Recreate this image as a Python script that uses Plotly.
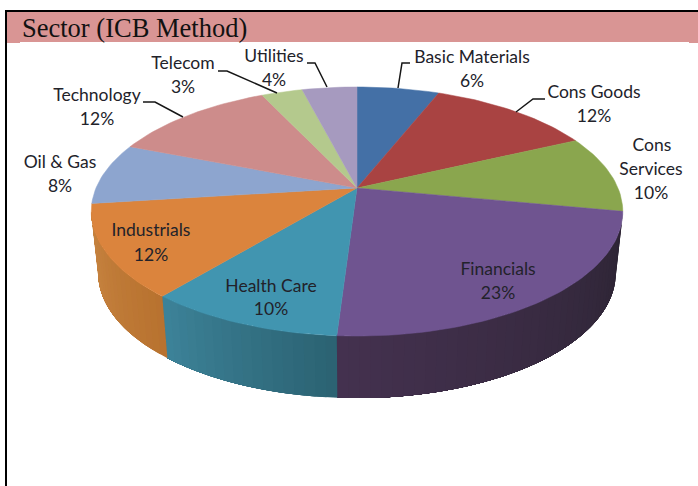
import math
import plotly.graph_objects as go

categories = ["Basic Materials", "Cons Goods", "Cons Services", "Financials", "Health Care",
              "Industrials", "Oil & Gas", "Technology", "Telecom", "Utilities"]
shares = [6, 12, 10, 23, 10, 12, 8, 12, 3, 4]
colors = ["#4470A6", "#A94342", "#8AA64E", "#6F5490", "#4195B0",
          "#DB843D", "#8DA5CF", "#CD8C8B", "#B4C98D", "#A69ABF"]
wall_from = {3: "#2C2433", 4: "#2B6272", 5: "#B8722F"}
wall_to = {3: "#44314F", 4: "#3D8399", 5: "#C88542"}

# Projection of the tilted disc
CX, CY, A, B, K = 357, 188, 261, 120.1, 0.1888
TOP_CY, TOP_RX, TOP_RY = 211.5, 266, 124.5
BOT_CY, BOT_RX, BOT_RY = 273, 259, 125


def top(theta):
    u, v = math.sin(theta), math.cos(theta)
    w = 1 + K * v
    return CX + A * u / w, CY - B * v / w


def bottom(theta):
    x, y = top(theta)
    return CX + (x - CX) / TOP_RX * BOT_RX, BOT_CY + (y - TOP_CY) / TOP_RY * BOT_RY


def mix(c1, c2, t):
    a = [int(c1[i:i + 2], 16) for i in (1, 3, 5)]
    b = [int(c2[i:i + 2], 16) for i in (1, 3, 5)]
    return "rgb(%d,%d,%d)" % tuple(round(p + (q - p) * t) for p, q in zip(a, b))


fig = go.Figure()
total = sum(shares)
edges = [0]
for s in shares:
    edges.append(edges[-1] + s / total * 2 * math.pi)

LIMIT_A, LIMIT_B = math.radians(100.9), math.radians(259)

# side walls: each strip reaches to the end of its slice and the next one paints over it,
# so the shading runs along the rim without seams
for i in wall_from:
    a0, a1 = max(edges[i], LIMIT_A), min(edges[i + 1], LIMIT_B)
    n = max(int((a1 - a0) / math.radians(2)), 1)
    for j in range(n):
        t0 = a0 + (a1 - a0) * j / n
        m = max(int((a1 - t0) / math.radians(1.5)), 1)
        steps = [t0 + (a1 - t0) * q / m for q in range(m + 1)]
        pts = [top(t) for t in steps] + [bottom(t) for t in reversed(steps)]
        col = mix(wall_from[i], wall_to[i], (j + 0.5) / n)
        fig.add_trace(go.Scatter(x=[p[0] for p in pts] + [pts[0][0]],
                                 y=[p[1] for p in pts] + [pts[0][1]],
                                 mode="none", fill="toself", fillcolor=col,
                                 hoverinfo="skip", showlegend=False))

# top faces
for i, name in enumerate(categories):
    n = max(int((edges[i + 1] - edges[i]) / math.radians(1.5)), 2)
    pts = [(CX, CY)] + [top(edges[i] + (edges[i + 1] - edges[i]) * j / n) for j in range(n + 1)] + [(CX, CY)]
    fig.add_trace(go.Scatter(x=[p[0] for p in pts], y=[p[1] for p in pts], mode="lines",
                             fill="toself", fillcolor=colors[i],
                             line=dict(color=colors[i], width=0.5),
                             name=name, hoverinfo="name", showlegend=False))

# leader lines
leaders = [
    [(410, 63), (402, 63), (398, 88)],
    [(545, 99), (533, 99), (516, 112)],
    [(307, 63), (315, 63), (327, 87)],
    [(218, 71), (227, 71), (277, 93)],
    [(143, 102), (155, 102), (183, 117)],
]
for ln in leaders:
    fig.add_trace(go.Scatter(x=[p[0] for p in ln], y=[p[1] for p in ln], mode="lines",
                             line=dict(color="#161616", width=1.5),
                             hoverinfo="skip", showlegend=False))

# labels
label_pos = {
    "Basic Materials": [(472, 59), (472, 83)],
    "Cons Goods": [(594, 94), (594, 118)],
    "Cons Services": [(652, 147), (651, 171), (651, 195)],
    "Financials": [(498, 271), (498, 295)],
    "Health Care": [(271, 288), (271, 311)],
    "Industrials": [(151, 232), (151, 257)],
    "Oil & Gas": [(60, 164), (60, 188)],
    "Technology": [(97, 97), (97, 121)],
    "Telecom": [(183, 65), (183, 89)],
    "Utilities": [(274, 58), (274, 82)],
}
lx, ly, lt = [], [], []
for name, share in zip(categories, shares):
    parts = name.split(" ") if name == "Cons Services" else [name]
    parts = parts + [f"{share}%"]
    for (x, y), t in zip(label_pos[name], parts):
        lx.append(x)
        ly.append(y)
        lt.append(t)
fig.add_trace(go.Scatter(x=lx, y=ly, text=lt, mode="text", textposition="middle center",
                         textfont=dict(family="Lato", size=17.5, color="#22222A"),
                         hoverinfo="skip", showlegend=False))

fig.update_layout(
    width=698, height=486, margin=dict(l=0, r=0, t=0, b=0),
    paper_bgcolor="white", plot_bgcolor="white",
    xaxis=dict(range=[0, 698], visible=False, fixedrange=True),
    yaxis=dict(range=[486, 0], visible=False, fixedrange=True),
    shapes=[
        dict(type="rect", xref="x", yref="y", x0=7, x1=698, y0=12, y1=42,
             fillcolor="#D99594", line_width=0, layer="below"),
        dict(type="rect", xref="x", yref="y", x0=7, x1=20, y0=42, y1=43,
             fillcolor="#D99594", line_width=0, layer="below"),
        dict(type="rect", xref="x", yref="y", x0=689, x1=698, y0=42, y1=43,
             fillcolor="#D99594", line_width=0, layer="below"),
        dict(type="line", xref="x", yref="y", x0=5, x1=698, y0=11, y1=11,
             line=dict(color="black", width=2)),
        dict(type="line", xref="x", yref="y", x0=6, x1=6, y0=10, y1=486,
             line=dict(color="black", width=2)),
    ],
    annotations=[dict(text="Sector (ICB Method)", xref="x", yref="y", x=20, y=28,
                      xanchor="left", yanchor="middle", showarrow=False,
                      font=dict(family="Liberation Serif", size=26.5, color="#111111"))],
)
fig.write_html("out.html", config={"displayModeBar": False},
               post_script="document.body.style.margin='0';document.documentElement.style.overflow='hidden';")
